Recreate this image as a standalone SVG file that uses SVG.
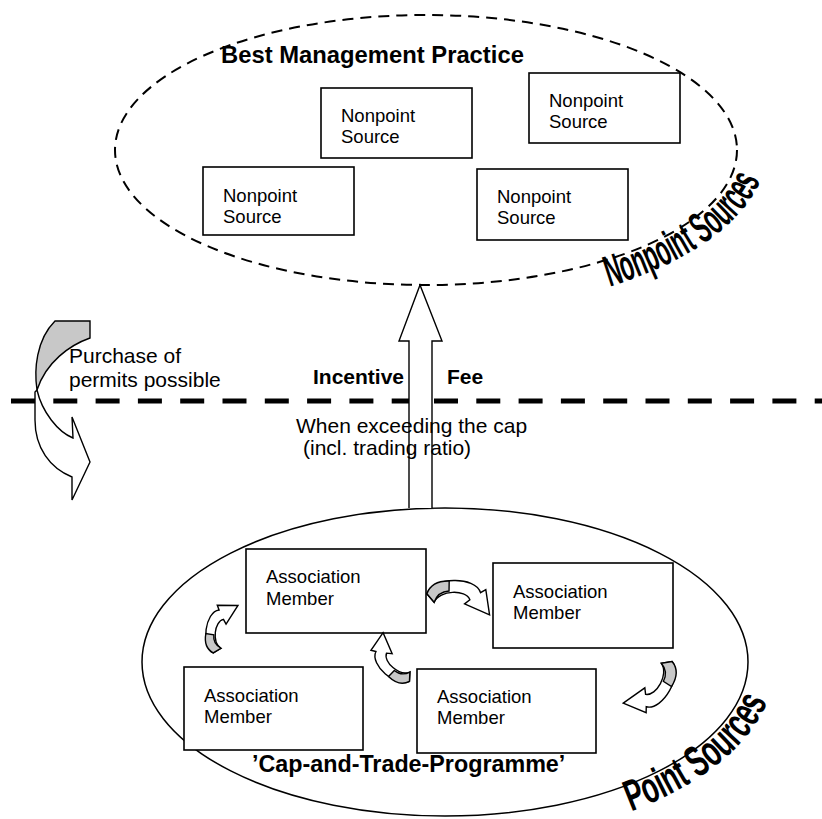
<svg xmlns="http://www.w3.org/2000/svg" xmlns:xlink="http://www.w3.org/1999/xlink" width="822" height="819" viewBox="0 0 822 819">
<style>
.box{fill:#fff;stroke:#000;stroke-width:1.6}
.t{font-family:"Liberation Sans",Arial,Helvetica,sans-serif;font-size:18.5px;fill:#000}
.m{font-family:"Liberation Sans",Arial,Helvetica,sans-serif;font-size:21px;fill:#000}
.b{font-family:"Liberation Sans",Arial,Helvetica,sans-serif;font-weight:bold;fill:#000}
.wa{font-family:"Liberation Sans Narrow","Liberation Sans",Arial,sans-serif;font-weight:bold;font-size:44px;fill:#000}
.ol{stroke:#000;stroke-width:1.4;stroke-linejoin:miter}
</style>
<defs>
<path id="arcNP" d="M598,290 A340,164 0 0 0 764,170" fill="none"/>
<path id="arcP" d="M615,817 A331,181 0 0 0 774,680" fill="none"/>
<g id="carrow">
<path d="M-3,6 C2,-10 43,-12 48,4 L53,1 L57,25 L33,15 L38,11 C34,1 9,2 4,14 Z" fill="#fff" stroke="#000" stroke-width="1.4" vector-effect="non-scaling-stroke"/>
<path d="M-3,6 C0,-3 8,-6.5 18,-6.5 L18,3 C11,3.5 6,8 4,14 Z" fill="#c8c8c8" stroke="#000" stroke-width="1.4" vector-effect="non-scaling-stroke"/>
</g>
</defs>
<rect width="822" height="819" fill="#fff"/>

<line x1="11" y1="401" x2="822" y2="401" stroke="#000" stroke-width="5" stroke-dasharray="24 18.3"/>

<g id="nonpoint-sources">
<ellipse cx="426" cy="150" rx="311" ry="135" fill="none" stroke="#000" stroke-width="2" stroke-dasharray="11 7"/>
<text class="b" x="221" y="63" font-size="23.8">Best Management Practice</text>
<text class="wa"><textPath xlink:href="#arcNP" href="#arcNP" startOffset="12" textLength="190" lengthAdjust="spacingAndGlyphs">Nonpoint Sources</textPath></text>
</g>

<g id="point-sources">
<ellipse cx="445" cy="662" rx="303" ry="154" fill="#fff" stroke="#000" stroke-width="1.5"/>
<text class="b" x="252" y="772" font-size="23.3">’Cap-and-Trade-Programme’</text>
<text class="wa"><textPath xlink:href="#arcP" href="#arcP" startOffset="17" textLength="180" lengthAdjust="spacingAndGlyphs">Point Sources</textPath></text>
</g>

<g id="nps-1"><rect class="box" x="321" y="88" width="151" height="70"/><text class="t" x="341" y="122">Nonpoint</text><text class="t" x="341" y="143">Source</text></g>
<g id="nps-2"><rect class="box" x="203" y="167" width="151" height="68"/><text class="t" x="223" y="202">Nonpoint</text><text class="t" x="223" y="223">Source</text></g>
<g id="nps-3"><rect class="box" x="529" y="73" width="151" height="70"/><text class="t" x="549" y="107">Nonpoint</text><text class="t" x="549" y="128">Source</text></g>
<g id="nps-4"><rect class="box" x="477" y="169" width="151" height="71"/><text class="t" x="497" y="203">Nonpoint</text><text class="t" x="497" y="224">Source</text></g>

<g id="member-1"><rect class="box" x="246" y="549" width="180" height="84"/><text class="t" x="266" y="583">Association</text><text class="t" x="266" y="605">Member</text></g>
<g id="member-2"><rect class="box" x="493" y="563" width="180" height="85"/><text class="t" x="513" y="598">Association</text><text class="t" x="513" y="619">Member</text></g>
<g id="member-3"><rect class="box" x="184" y="667" width="179" height="83"/><text class="t" x="204" y="702">Association</text><text class="t" x="204" y="723">Member</text></g>
<g id="member-4"><rect class="box" x="417" y="669" width="179" height="84"/><text class="t" x="437" y="703">Association</text><text class="t" x="437" y="724">Member</text></g>

<g id="connectors">
<path class="ol" d="M409,508 L409,341 L399,341 L420,285 L442,341 L432,341 L432,508" fill="#fff"/>
<path class="ol" d="M55,321 L90,321 L90,338 C70,345 46,362 37,390 C34,370 36,340 55,321 Z" fill="#c8c8c8"/>
<path class="ol" d="M37,390 C42,412 58,432 73,438 L72,417 L90,462 L72,500 L72,477 C50,468 35,448 35,420 L35,392 Z" fill="#fff"/>
<use href="#carrow" xlink:href="#carrow" transform="translate(217,651) rotate(-80) scale(0.85) translate(0,-10)"/>
<use href="#carrow" xlink:href="#carrow" transform="translate(430,598) rotate(1) scale(1.05) translate(0,-10)"/>
<use href="#carrow" xlink:href="#carrow" transform="translate(410,677) rotate(-136) scale(0.88) translate(0,-10)"/>
<use href="#carrow" xlink:href="#carrow" transform="translate(667,662) rotate(122) scale(1.02) translate(0,-10)"/>
</g>

<g id="labels">
<text class="m" x="69" y="363">Purchase of</text>
<text class="m" x="69" y="387">permits possible</text>
<text class="b" x="313" y="384" font-size="21">Incentive</text>
<text class="b" x="447" y="384" font-size="21">Fee</text>
<text class="m" x="296" y="433">When exceeding the cap</text>
<text class="m" x="303" y="455">(incl. trading ratio)</text>
</g>
</svg>
